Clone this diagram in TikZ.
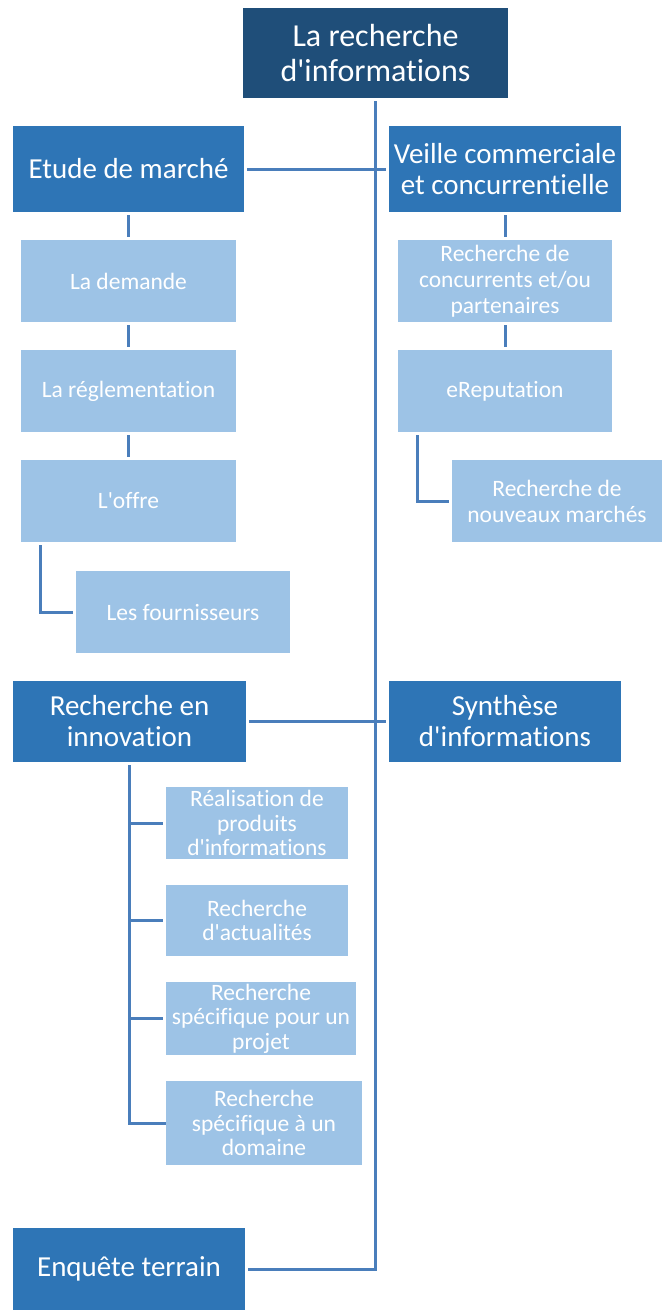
\documentclass[tikz,border=0pt]{standalone}
\usepackage{fontspec}
\setmainfont{Carlito}[Ligatures={TeXOff,NoCommon}]
\definecolor{rootc}{HTML}{1F4E79}
\definecolor{mainc}{HTML}{2E75B6}
\definecolor{lightc}{HTML}{9DC3E6}
\definecolor{linec}{HTML}{4A7EBB}
\begin{document}
\begin{tikzpicture}[x=1pt,y=-1pt,
  rootbox/.style={fill=rootc,text=white,inner sep=0pt,align=center,font=\fontsize{32}{35}\selectfont},
  mainbox/.style={fill=mainc,text=white,inner sep=0pt,align=center,font=\fontsize{29}{31}\selectfont},
  subbox/.style={fill=lightc,text=white,inner sep=0pt,align=center,font=\fontsize{23.5}{26}\selectfont},
  subboxb/.style={subbox,font=\fontsize{23.5}{24.5}\selectfont},
  conn/.style={draw=linec,line width=3pt,shorten <=3pt,shorten >=3pt}]
\useasboundingbox[fill=white] (0,0) rectangle (662,1310);
% root
\node[rootbox,minimum width=265pt,minimum height=90pt] (root) at (375.5,53) {La recherche\\d'informations};
% level 1
\node[mainbox,minimum width=231pt,minimum height=86pt] (etude) at (128.5,169) {Etude de march\'e};
\node[mainbox,minimum width=232pt,minimum height=86pt] (veille) at (505,169) {Veille commerciale\\et concurrentielle};
\node[mainbox,minimum width=233pt,minimum height=81pt] (innov) at (129.5,721.5) {Recherche en\\innovation};
\node[mainbox,minimum width=232pt,minimum height=81pt] (synth) at (505,721.5) {Synth\`ese\\d'informations};
\node[mainbox,minimum width=232pt,minimum height=82pt] (enq) at (129,1269) {Enqu\^ete terrain};
% etude children
\node[subbox,minimum width=215pt,minimum height=82pt] (dem) at (128.5,281) {La demande};
\node[subbox,minimum width=215pt,minimum height=82pt] (regl) at (128.5,391) {La r\'eglementation};
\node[subbox,minimum width=215pt,minimum height=82pt] (offre) at (128.5,501) {L'offre};
\node[subbox,minimum width=214pt,minimum height=82pt] (four) at (183,612) {Les fournisseurs};
% veille children
\node[subbox,minimum width=214pt,minimum height=82pt] (conc) at (505,281) {Recherche de\\concurrents et/ou\\partenaires};
\node[subbox,minimum width=214pt,minimum height=82pt] (erep) at (505,391) {eReputation};
\node[subbox,minimum width=210pt,minimum height=82pt] (nouv) at (557,501) {Recherche de\\nouveaux march\'es};
% innovation children
\node[subboxb,minimum width=182pt,minimum height=72pt] (r1) at (257,823) {R\'ealisation de\\produits\\d'informations};
\node[subboxb,minimum width=182pt,minimum height=71pt] (r2) at (257,920.5) {Recherche\\d'actualit\'es};
\node[subboxb,minimum width=190pt,minimum height=73pt] (r3) at (261,1018.5) {Recherche\\sp\'ecifique pour un\\projet};
\node[subboxb,minimum width=196pt,minimum height=84pt] (r4) at (264,1123) {Recherche\\sp\'ecifique \`a un\\domaine};
% connectors
\draw[conn] (root.south) |- (enq.east);
\draw[conn] (etude.east) -- (veille.west);
\draw[conn] (innov.east) -- (synth.west);
\draw[conn] (etude.south) -- (dem.north);
\draw[conn] (dem.south) -- (regl.north);
\draw[conn] (regl.south) -- (offre.north);
\draw[conn] ([xshift=20pt]offre.south west) |- (four.west);
\draw[conn] (veille.south) -- (conc.north);
\draw[conn] (conc.south) -- (erep.north);
\draw[conn] ([xshift=20pt]erep.south west) |- (nouv.west);
\draw[conn,shorten >=0pt] (innov.south) |- (r4.west);
\draw[conn,shorten <=0pt] (innov.south |- r1.west) -- (r1.west);
\draw[conn,shorten <=0pt] (innov.south |- r2.west) -- (r2.west);
\draw[conn,shorten <=0pt] (innov.south |- r3.west) -- (r3.west);
\draw[conn,shorten <=0pt] (innov.south |- r4.west) -- (r4.west);
\end{tikzpicture}
\end{document}
